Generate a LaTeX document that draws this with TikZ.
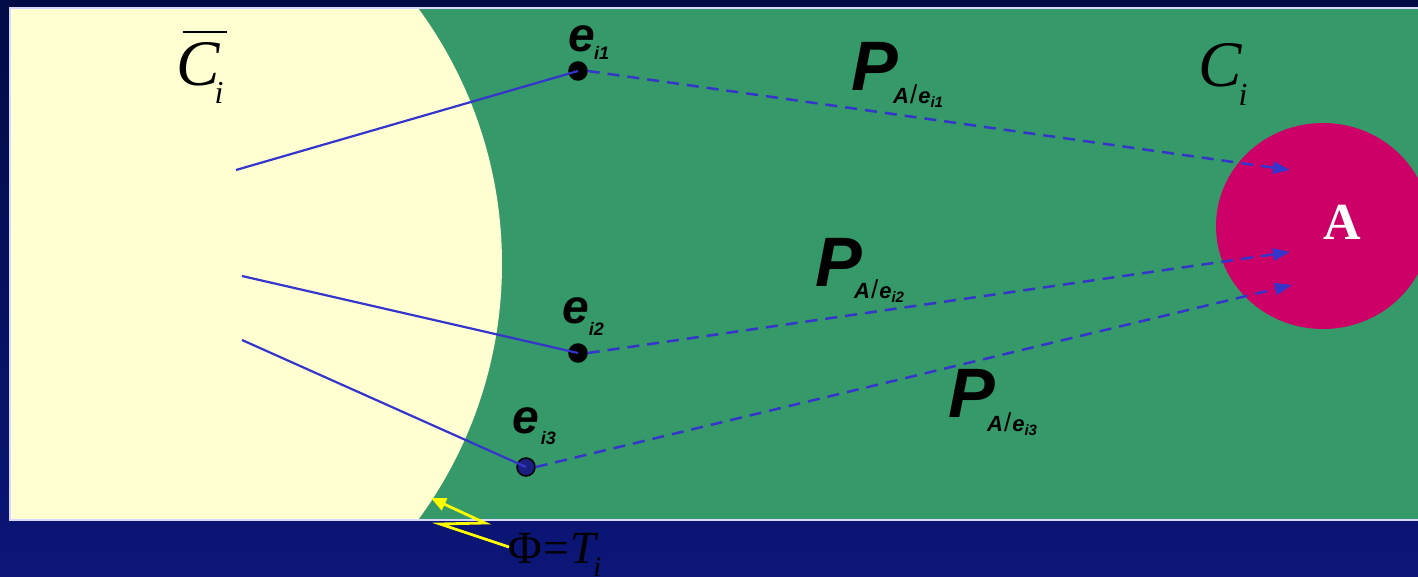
\documentclass[tikz,border=0pt]{standalone}
\usepackage{fontspec}
\setmainfont{Liberation Serif}
\newfontfamily\arialf{Liberation Sans}
\usetikzlibrary{arrows.meta,shapes.geometric}
\definecolor{navybot}{HTML}{0B1678}
\definecolor{navytop}{HTML}{020B45}
\definecolor{dotnavy}{HTML}{1A2080}
\definecolor{fieldgreen}{HTML}{359969}
\definecolor{cream}{HTML}{FFFFD2}
\definecolor{magenta}{HTML}{CC0066}
\definecolor{lineblue}{HTML}{3535CC}
\definecolor{bolt}{HTML}{FFFF00}
\tikzset{
  lbl/.style={inner sep=0pt, anchor=base west},
  ebold/.style={lbl, font=\arialf\bfseries\itshape\fontsize{48}{48}\selectfont},
  pbig/.style={lbl, font=\arialf\bfseries\itshape\fontsize{70}{70}\selectfont},
  cbig/.style={lbl, font=\itshape\fontsize{65}{65}\selectfont},
  dotnode/.style={circle, fill=black, draw=black, line width=1.5pt, minimum size=18pt, inner sep=0pt},
  solidlink/.style={lineblue, line width=2.2pt},
  dashlink/.style={lineblue, line width=2.5pt, dash pattern=on 12pt off 8pt, -{Triangle[length=17pt,width=12pt]}},
}
% subscript helpers
\newcommand{\esubtxt}[3]{e\kern#1pt\raisebox{-#2pt}{\fontsize{18}{18}\selectfont i#3}}
\newcommand{\psubtxt}[3]{P\kern#1pt\raisebox{-#2pt}{\fontsize{22}{22}\selectfont A\kern1pt{\mdseries\upshape\fontsize{26}{26}\selectfont/}\kern1pt e\raisebox{-4pt}{\fontsize{15}{15}\selectfont i#3}}}
\newcommand{\csubtxt}[2]{C\kern#1pt\raisebox{-#2pt}{\fontsize{32}{32}\selectfont i}}
\begin{document}
\begin{tikzpicture}[x=1pt,y=-1pt]
\useasboundingbox (0,0) rectangle (1418,577);
\shade[top color=navytop, bottom color=navybot] (0,0) rectangle (1418,577);
\fill[fieldgreen] (10,8) rectangle (1420,520);
\begin{scope}
  \clip (10,8) rectangle (1420,520);
  \fill[cream] (70,264) circle (432);
\end{scope}
\draw[white!85!blue, line width=2pt] (1420,8) -- (10,8) -- (10,520) -- (1420,520);

% region A
\node[ellipse, fill=magenta, minimum width=214pt, minimum height=206pt, inner sep=0pt] (A) at (1323,226) {};
\node[inner sep=0pt, text=white, font=\bfseries\fontsize{52}{52}\selectfont] (Alab) at (1342,222) {A};

% points
\node[dotnode] (e1) at (578,71) {};
\node[dotnode] (e2) at (578,353) {};
\node[dotnode, fill=dotnavy] (e3) at (526,467) {};

% free ends
\coordinate (s1) at (236,170);
\coordinate (s2) at (242,276);
\coordinate (s3) at (242,340);
\coordinate (t1) at (1290,170);
\coordinate (t2) at (1290,252);
\coordinate (t3) at (1292,285);

\draw[solidlink] (s1) -- (e1.center);
\draw[solidlink] (s2) -- (e2.center);
\draw[solidlink] (s3) -- (e3.center);
\draw[dashlink] (e1.east) -- (t1);
\draw[dashlink] (e2.east) -- (t2);
\draw[dashlink] (e3.east) -- (t3);

% e labels
\node[ebold] (le1) at (568,52) {\esubtxt{-0.7}{8}{1}};
\node[ebold] (le2) at (562,323) {\esubtxt{0}{12}{2}};
\node[ebold] (le3) at (512,433) {\esubtxt{2}{11}{3}};

% P labels
\node[pbig] (p1) at (851,91) {\psubtxt{-4.7}{13}{1}};
\node[pbig] (p2) at (815,287) {\psubtxt{-7.7}{12}{2}};
\node[pbig] (p3) at (948,417) {\psubtxt{-7.7}{14}{3}};

% C labels
\node[cbig] (cb) at (176,86) {\csubtxt{-5}{18}};
\draw[black, line width=2.2pt] (183,32) -- (227,32);
\node[cbig] (ci) at (1198,87) {\csubtxt{-3}{19}};

% Phi = T_i
\node[lbl, font=\fontsize{46}{46}\selectfont] (phi) at (508,563) {Φ\kern1.5pt=\kern1.5pt{\itshape T\kern-3pt\raisebox{-13pt}{\fontsize{28}{28}\selectfont i}}};
\coordinate (b0) at (509,547);
\coordinate (b1) at (440,524);
\coordinate (b2) at (485,523);
\coordinate (b3) at (431,498);
\draw[bolt, line width=2.8pt, line join=miter, -{Triangle[length=15pt,width=13pt]}] (b0) -- (b1) -- (b2) -- (b3);
\end{tikzpicture}
\end{document}
